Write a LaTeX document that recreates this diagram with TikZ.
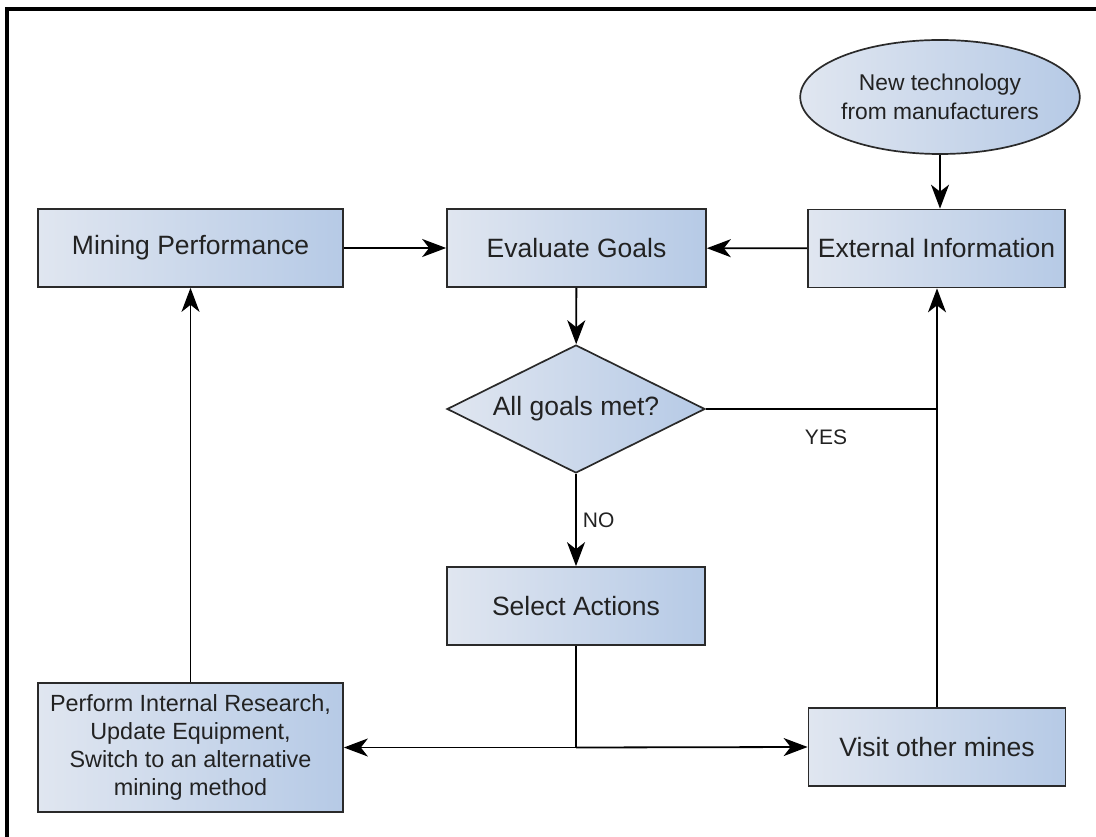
\documentclass[tikz,border=0pt]{standalone}
\usepackage{fontspec}
\setmainfont{Liberation Sans}
\usetikzlibrary{arrows.meta,shapes.geometric}
\definecolor{fillL}{HTML}{E0E6F0}
\definecolor{fillR}{HTML}{B6CAE6}
\definecolor{edge}{HTML}{2A2A2A}
\definecolor{ink}{HTML}{222222}
\tikzset{
  shade box/.style={draw=edge, line width=1.7pt, left color=fillL, right color=fillR,
    text=ink, inner sep=0pt, font=\fontsize{26.5}{30}\selectfont},
  procbox/.style={shade box, rectangle, minimum height=78pt},
  decbox/.style={shade box, diamond, shape aspect=2, minimum width=258pt, minimum height=128pt},
  termbox/.style={shade box, ellipse, minimum width=266pt, minimum height=114pt,
    font=\fontsize{22.8}{29}\selectfont, align=center},
  flowtip/.tip={Stealth[length=24pt, width=18pt, inset=7pt]},
  arr/.style={line width=1.8pt, -flowtip},
  plain/.style={line width=1.8pt},
  tag/.style={text=ink, inner sep=0pt, font=\fontsize{21}{24}\selectfont}
}
\begin{document}
\begin{tikzpicture}[x=1pt,y=-1pt]
\useasboundingbox (0,0) rectangle (1096,837);
% cropped outer frame
\draw[line width=4.5pt] (7,860) -- (7,9.2) -- (1120,9.2);

% nodes
\node[termbox] (tech) at (940,97) {New technology\\from manufacturers};
\node[procbox, minimum width=305pt] (mp) at (190.5,248) {Mining Performance};
\node[procbox, minimum width=259pt] (eg) at (576.5,248) {Evaluate Goals};
\node[procbox, minimum width=257pt] (ei) at (936.5,248.5) {External Information};
\node[decbox] (dec) at (576,409) {All goals met?};
\node[procbox, minimum width=258pt] (sa) at (576,606) {Select Actions};
\node[procbox, minimum width=257pt] (vm) at (937,747) {Visit other mines};
\node[procbox, minimum width=305pt, minimum height=129pt, align=center,
      font=\fontsize{23.4}{28}\selectfont] (pr) at (190.5,747.5)
      {Perform Internal Research,\\Update Equipment,\\Switch to an alternative\\mining method};

% helper points
\coordinate (j) at (sa.south |- pr.east);
\coordinate (yes) at (ei.south |- dec.east);

% connectors
\draw[arr] (tech.south) -- (tech.south |- ei.north);
\draw[arr] (mp) -- (eg);
\draw[arr] (ei) -- (eg);
\draw[arr] (eg) -- (dec);
\draw[arr] (dec) -- node[tag, right=6pt, pos=0.5] (no) {NO} (sa);
\draw[plain] (sa.south) -- (j);
\draw[arr] (j) -- (pr.east);
\draw[arr] (j) -- (vm.west);
\draw[arr] (pr) -- (mp);
\draw[arr] (vm) -- (vm.north |- ei.south);
\draw[plain] (dec.east) -- (yes);
\node[tag] (yeslbl) at (826,437) {YES};
\end{tikzpicture}
\end{document}
